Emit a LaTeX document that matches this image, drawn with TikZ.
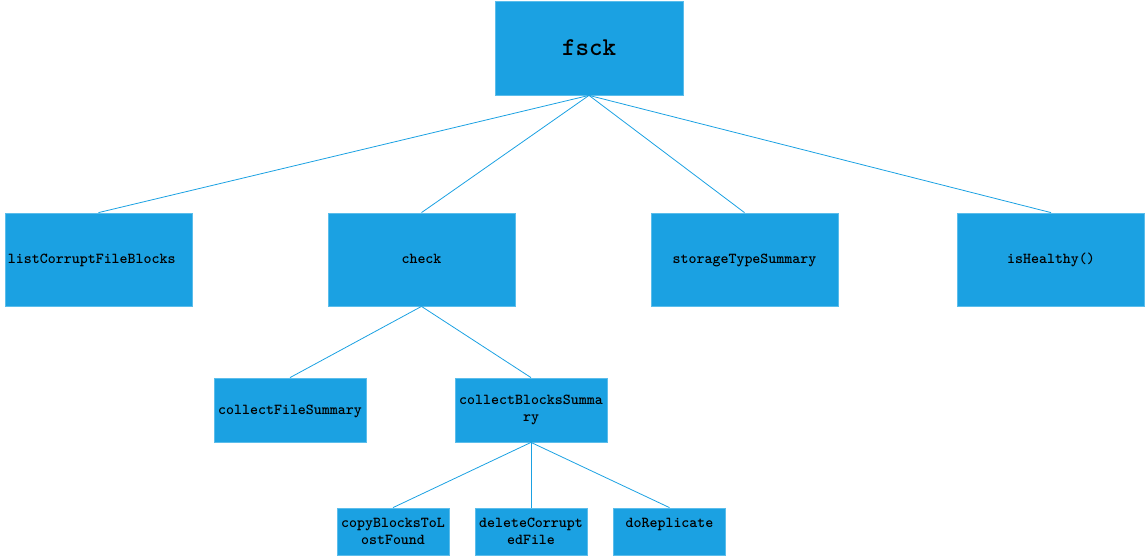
\documentclass[tikz,border=0pt]{standalone}
\usepackage{fontspec}
\definecolor{boxblue}{HTML}{1BA1E2}
\definecolor{edgeblue}{HTML}{5BBDEB}
\begin{document}
\begin{tikzpicture}[x=1pt,y=-1pt,
  box/.style={draw=edgeblue, fill=boxblue, line width=0.8pt, inner sep=0pt,
    font=\ttfamily\bfseries\fontsize{15.2}{16.5}\selectfont, align=center},
  oneline/.style={text height=11pt, text depth=3pt},
  big/.style={box, oneline, minimum width=187pt, minimum height=93pt},
  mid/.style={box, minimum width=152pt, minimum height=64pt},
  small/.style={box, minimum width=112pt, minimum height=47pt},
  link/.style={draw=boxblue, line width=0.8pt}]
\useasboundingbox (0,0) rectangle (1147,557);
\node[box, minimum width=188pt, minimum height=94pt,
  font=\ttfamily\bfseries\fontsize{25.7}{28}\selectfont] (fsck) at (589,48) {fsck};
\node[big, text width=181pt, inner xsep=3pt, align=left] (lcfb) at (98.5,259.5) {listCorruptFileBlocks};
\node[big] (check) at (421.5,259.5) {check};
\node[big] (sts) at (744.5,259.5) {storageTypeSummary};
\node[big] (ish) at (1051,259.5) {isHealthy()};
\node[mid, oneline] (cfs) at (290,410) {collectFileSummary};
\node[mid] (cbs) at (531,410) {collectBlocksSumma\\ry};
\node[small] (cbl) at (393,531.5) {copyBlocksToL\\ostFound};
\node[small] (dcf) at (531,531.5) {deleteCorrupt\\edFile};
\node[small] (drep) at (669.5,531.5) {doReplicate\\\phantom{ostFound}};
\draw[link] (fsck.south) -- (lcfb.north);
\draw[link] (fsck.south) -- (check.north);
\draw[link] (fsck.south) -- (sts.north);
\draw[link] (fsck.south) -- (ish.north);
\draw[link] (check.south) -- (cfs.north);
\draw[link] (check.south) -- (cbs.north);
\draw[link] (cbs.south) -- (cbl.north);
\draw[link] (cbs.south) -- (dcf.north);
\draw[link] (cbs.south) -- (drep.north);
\end{tikzpicture}
\end{document}
